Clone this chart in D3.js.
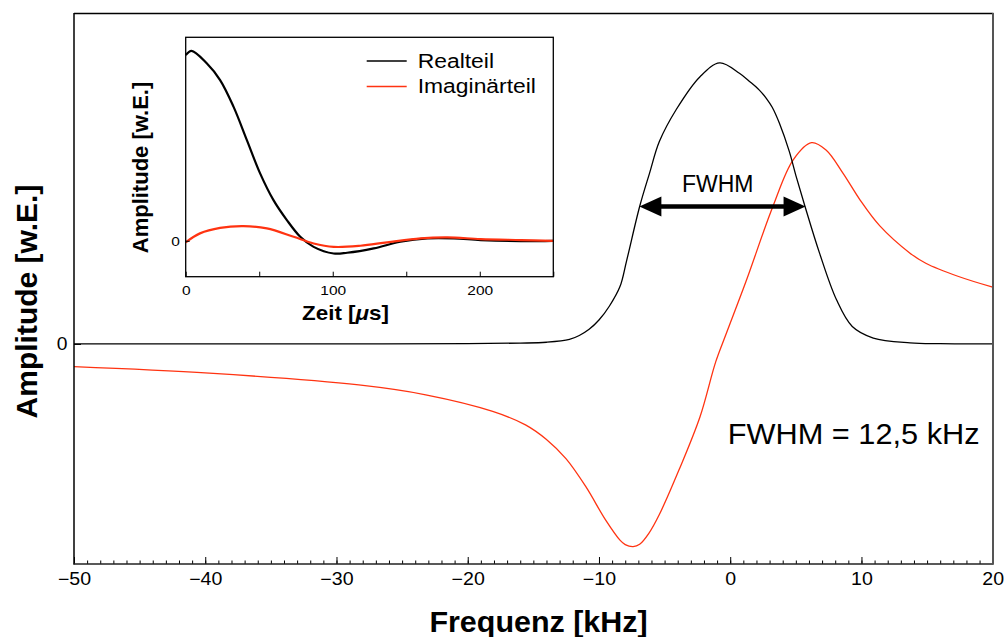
<!DOCTYPE html>
<html>
<head>
<meta charset="utf-8">
<script src="https://cdn.jsdelivr.net/npm/d3@7"></script>
<style>
body { margin: 0; background: #fff; }
svg { display: block; font-family: "Liberation Sans", Arial, sans-serif; }
</style>
</head>
<body>
<svg id="chart" width="1005" height="637"></svg>
<script>
// Spektrum: Realteil (schwarz) und Imaginärteil (rot), Frequenz in kHz
var freqReal = [-50, -40, -30, -20, -16, -14, -12.25, -11.5, -10.75, -10, -9.2, -8.4, -7.9, -6.9, -6.15, -5.4, -4.1, -2.3, -0.8, 0.7, 1.5, 2.2, 2.75, 3.2, 3.75, 4.5, 5.0, 5.7, 6.8, 8.1, 9.3, 10.9, 13.7, 16, 20];
var ampReal  = [0, 0, 0, 0.001, 0.003, 0.006, 0.016, 0.03, 0.052, 0.085, 0.135, 0.204, 0.295, 0.489, 0.607, 0.72, 0.835, 0.951, 1.0, 0.963, 0.933, 0.904, 0.874, 0.842, 0.785, 0.685, 0.6, 0.489, 0.324, 0.157, 0.062, 0.021, 0.004, 0.001, 0];

var freqImag = [-50, -39.7, -28.3, -23.2, -18.1, -15.6, -14.0, -12.5, -11.0, -9.5, -8.4, -8.0, -7.4, -6.9, -6.2, -5.4, -3.9, -2.3, -1.1, -0.3, 1.2, 3.25, 4.8, 6.2, 7.3, 8.6, 9.9, 11.4, 13.7, 14.9, 17.4, 20];
var ampImag  = [-0.081, -0.104, -0.146, -0.181, -0.24, -0.288, -0.34, -0.409, -0.508, -0.626, -0.698, -0.714, -0.721, -0.713, -0.674, -0.607, -0.448, -0.259, -0.063, 0.037, 0.222, 0.489, 0.655, 0.716, 0.69, 0.607, 0.512, 0.42, 0.323, 0.287, 0.24, 0.202];

var freqTicks = [-50, -40, -30, -20, -10, 0, 10, 20];
var ampTicks = [0];

// Einschub: Zeitsignal in µs
var timeReal = [0, 4, 14.3, 23.4, 32.5, 41.6, 50.6, 59.7, 68.8, 77.9, 87, 100.6, 109.8, 127.9, 146, 164.3, 182.4, 200.6, 227.9, 250];
var sigReal  = [0.977, 1.0, 0.934, 0.846, 0.706, 0.53, 0.355, 0.214, 0.109, 0.021, -0.032, -0.067, -0.063, -0.04, -0.005, 0.013, 0.013, 0.004, -0.002, 0];

var timeImag = [0, 9.7, 23.4, 39.3, 55.2, 73.4, 87, 100.6, 118.8, 137, 159.7, 178, 200.6, 228, 250];
var sigImag  = [-0.008, 0.039, 0.068, 0.077, 0.065, 0.021, -0.014, -0.032, -0.026, -0.008, 0.013, 0.018, 0.009, 0.004, 0];

var timeTicks = [0, 50, 100, 150, 200, 250];
var legendLabels = ["Realteil", "Imaginärteil"];

// Halbwertsbreite
var fwhmSpan = [-6.92, 5.74];
var halfMax = 0.489;

var red = "#ff3311";
var svg = d3.select("#chart");

function label(g, txt, x, y, size, weight, sx, anchor) {
    return g.append("text")
        .attr("transform", "translate(" + x + "," + y + ") scale(" + sx + ",1)")
        .attr("text-anchor", anchor)
        .style("font-size", size + "px")
        .style("font-weight", weight)
        .text(txt);
}

// ---------- Hauptgrafik ----------
var x = d3.scaleLinear().domain([-50, 20]).range([74, 992.7]);
var y = d3.scaleLinear().domain([-0.783, 1.174]).range([564, 14]);

var line = d3.line()
    .x(function(d) { return x(d[0]); })
    .y(function(d) { return y(d[1]); })
    .curve(d3.curveCatmullRom.alpha(0.5));

svg.append("path")
    .datum(d3.zip(freqImag, ampImag))
    .attr("d", line)
    .attr("fill", "none")
    .attr("stroke", red)
    .attr("stroke-width", 1.3);

svg.append("path")
    .datum(d3.zip(freqReal, ampReal))
    .attr("d", line)
    .attr("fill", "none")
    .attr("stroke", "#000")
    .attr("stroke-width", 1.3);

// minor ticks
svg.append("g")
    .attr("transform", "translate(0,564)")
    .call(d3.axisBottom(x).tickValues(d3.range(-50, 21, 1)).tickSize(-3.5).tickFormat(""))
    .call(function(g) { g.select(".domain").remove(); });

var xAxis = svg.append("g")
    .attr("transform", "translate(0,564)")
    .call(d3.axisBottom(x).tickValues(freqTicks).tickSize(-7).tickPadding(9).tickFormat(d3.format("d")));
xAxis.select(".domain").remove();
xAxis.selectAll("text")
    .style("font-size", "17.5px")
    .attr("fill", "#000")
    .attr("transform", "scale(1.12,1)");

var yAxis = svg.append("g")
    .attr("transform", "translate(74,0)")
    .call(d3.axisLeft(y).tickValues(ampTicks).tickSize(-7).tickPadding(6).tickFormat(d3.format("d")));
yAxis.select(".domain").remove();
yAxis.selectAll("text")
    .style("font-size", "17.5px")
    .attr("fill", "#000")
    .attr("transform", "scale(1.1,1)");

// Rahmen
svg.append("line").attr("x1", 74).attr("x2", 993.5).attr("y1", 13.5).attr("y2", 13.5).attr("stroke", "#000").attr("stroke-width", 1.5);
svg.append("line").attr("x1", 74).attr("x2", 74).attr("y1", 13).attr("y2", 564.5).attr("stroke", "#000").attr("stroke-width", 1.5);
svg.append("line").attr("x1", 73.5).attr("x2", 993.5).attr("y1", 564).attr("y2", 564).attr("stroke", "#222").attr("stroke-width", 1.5);
svg.append("line").attr("x1", 993).attr("x2", 993).attr("y1", 13).attr("y2", 564.5).attr("stroke", "#555").attr("stroke-width", 2);

// Achsentitel
label(svg, "Frequenz [kHz]", 538.5, 631.5, 29, "bold", 1.05, "middle");
svg.append("text")
    .attr("transform", "translate(37,301.5) rotate(-90)")
    .attr("text-anchor", "middle")
    .style("font-size", "30px")
    .style("font-weight", "bold")
    .text("Amplitude [w.E.]");

// FWHM Pfeil
var ay = y(halfMax), ax1 = x(fwhmSpan[0]), ax2 = x(fwhmSpan[1]);
svg.append("line")
    .attr("x1", ax1 + 15).attr("x2", ax2 - 15)
    .attr("y1", ay).attr("y2", ay)
    .attr("stroke", "#000").attr("stroke-width", 4.5);
svg.append("path")
    .attr("d", "M" + ax1 + "," + ay + "L" + (ax1 + 22) + "," + (ay - 10) + "L" + (ax1 + 22) + "," + (ay + 10) + "Z")
    .attr("fill", "#000");
svg.append("path")
    .attr("d", "M" + ax2 + "," + ay + "L" + (ax2 - 22) + "," + (ay - 10) + "L" + (ax2 - 22) + "," + (ay + 10) + "Z")
    .attr("fill", "#000");
label(svg, "FWHM", 717.7, 191.7, 23, "normal", 1, "middle");
label(svg, "FWHM = 12,5 kHz", 727.7, 444.3, 29, "normal", 1.06, "start");

// ---------- Einschub ----------
var xi = d3.scaleLinear().domain([0, 250]).range([185.7, 553.3]);
var yi = d3.scaleLinear().domain([-0.189, 1.071]).range([276.7, 37.3]);

var inset = svg.append("g");
inset.append("rect")
    .attr("x", 185.7).attr("y", 37.3)
    .attr("width", 367.6).attr("height", 239.4)
    .attr("fill", "#fff");

var lineI = d3.line()
    .x(function(d) { return xi(d[0]); })
    .y(function(d) { return yi(d[1]); })
    .curve(d3.curveCatmullRom.alpha(0.5));

inset.append("path")
    .datum(d3.zip(timeReal, sigReal))
    .attr("d", lineI)
    .attr("fill", "none")
    .attr("stroke", "#000")
    .attr("stroke-width", 2.2);

inset.append("path")
    .datum(d3.zip(timeImag, sigImag))
    .attr("d", lineI)
    .attr("fill", "none")
    .attr("stroke", red)
    .attr("stroke-width", 2.2);

inset.append("rect")
    .attr("x", 185.7).attr("y", 37.3)
    .attr("width", 367.6).attr("height", 239.4)
    .attr("fill", "none")
    .attr("stroke", "#000")
    .attr("stroke-width", 1.3);

var xiAxis = inset.append("g")
    .attr("transform", "translate(0,276.7)")
    .call(d3.axisBottom(xi).tickValues(timeTicks).tickSize(-5).tickPadding(9)
        .tickFormat(function(d) { return d % 100 === 0 ? d : ""; }));
xiAxis.select(".domain").remove();
xiAxis.selectAll("text")
    .style("font-size", "13.5px")
    .attr("fill", "#000")
    .attr("transform", "scale(1.15,1)");

var yiAxis = inset.append("g")
    .attr("transform", "translate(185.7,0)")
    .call(d3.axisLeft(yi).tickValues([0]).tickSize(-4).tickPadding(5).tickFormat(d3.format("d")));
yiAxis.select(".domain").remove();
yiAxis.selectAll("text")
    .style("font-size", "13.5px")
    .attr("fill", "#000")
    .attr("transform", "scale(1.15,1)");

// Einschub Titel
var zt = inset.append("text")
    .attr("transform", "translate(345.5,320) scale(1.12,1)")
    .attr("text-anchor", "middle")
    .style("font-size", "20px")
    .style("font-weight", "bold");
zt.append("tspan").text("Zeit [");
zt.append("tspan").style("font-style", "italic").text("μ");
zt.append("tspan").text("s]");

inset.append("text")
    .attr("transform", "translate(148,167.5) rotate(-90)")
    .attr("text-anchor", "middle")
    .style("font-size", "22px")
    .style("font-weight", "bold")
    .text("Amplitude [w.E.]");

// Legende
var legend = inset.selectAll(".legend")
    .data(legendLabels)
    .enter()
    .append("g")
    .attr("class", "legend")
    .attr("transform", function(d, i) { return "translate(0," + (61 + i * 25.5) + ")"; });

legend.append("line")
    .attr("x1", 366.7).attr("x2", 406.7)
    .attr("y1", 0).attr("y2", 0)
    .attr("stroke", function(d, i) { return i === 0 ? "#000" : red; })
    .attr("stroke-width", 1.5);

legend.append("text")
    .attr("transform", "translate(417.7,6.7) scale(1.09,1)")
    .style("font-size", "21px")
    .text(function(d) { return d; });
</script>
</body>
</html>
